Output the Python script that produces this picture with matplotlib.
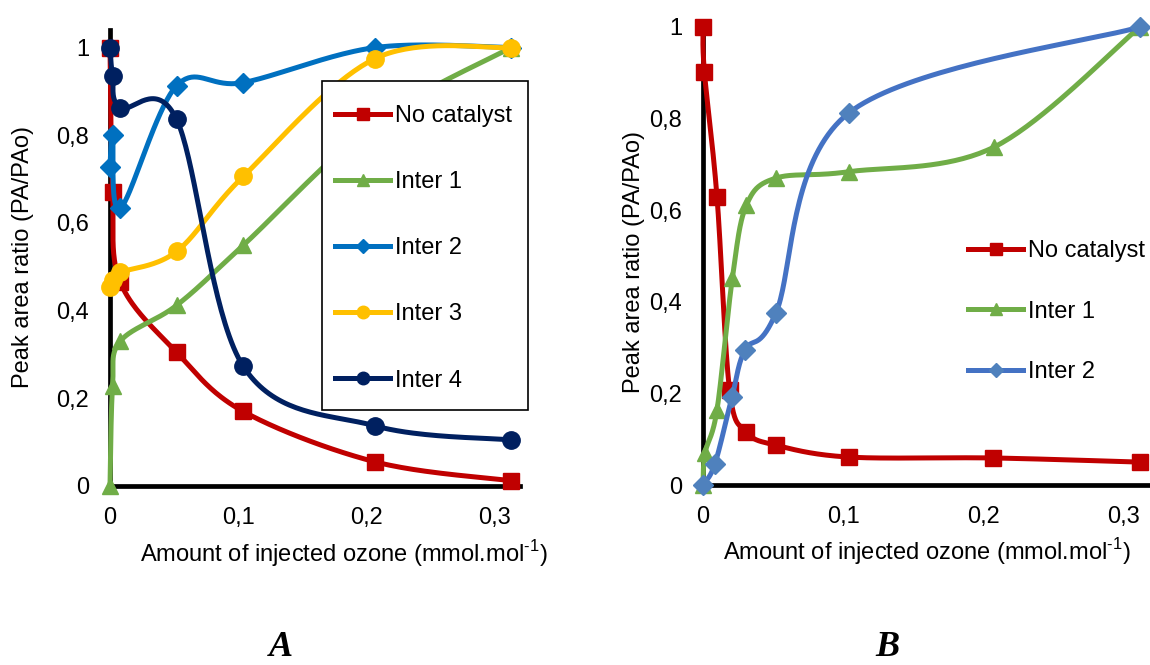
import numpy as np
import matplotlib
matplotlib.use("Agg")
import matplotlib.pyplot as plt
from matplotlib.lines import Line2D
from matplotlib.patches import Rectangle
from matplotlib.ticker import FuncFormatter, MultipleLocator

plt.rcParams['font.family'] = ['Liberation Sans', 'DejaVu Sans']
plt.rcParams['mathtext.fontset'] = 'custom'
plt.rcParams['mathtext.rm'] = 'Liberation Sans'

# panel A
xa = [0, 0.002, 0.008, 0.052, 0.104, 0.207, 0.313]
a_nocat = [1.0, 0.67, 0.465, 0.305, 0.17, 0.055, 0.012]
a_inter1 = [0.0, 0.228, 0.33, 0.412, 0.549, 0.829, 1.0]
a_inter2 = [0.727, 0.80, 0.633, 0.913, 0.92, 1.0, 1.0]
a_inter3 = [0.453, 0.47, 0.487, 0.535, 0.706, 0.975, 1.0]
a_inter4 = [1.0, 0.936, 0.863, 0.836, 0.273, 0.137, 0.105]

# panel B
xb = [0, 0.001, 0.01, 0.019, 0.031, 0.052, 0.104, 0.207, 0.312]
b_nocat = [1.0, 0.902, 0.629, 0.207, 0.116, 0.087, 0.061, 0.059, 0.05]
xb1 = [0, 0.0015, 0.01, 0.021, 0.031, 0.052, 0.104, 0.208, 0.312]
b_inter1 = [0.0, 0.07, 0.164, 0.452, 0.611, 0.67, 0.684, 0.738, 1.0]
xb2 = [0, 0.0085, 0.0207, 0.030, 0.052, 0.104, 0.312]
b_inter2 = [0.0, 0.046, 0.192, 0.295, 0.375, 0.812, 1.0]

RED = '#C00000'
GREEN = '#70AD47'
BLUE = '#0070C0'
YELLOW = '#FFC000'
NAVY = '#002060'
BLUE2 = '#4472C4'
BLUE2M = '#4F81BD'

FS = 17
LW = 3.6


def smooth(xs, ys, n=40):
    # Excel-like smoothed line (Catmull-Rom through the points)
    p = np.column_stack([xs, ys]).astype(float)
    pts = np.vstack([p[0], p, p[-1]])
    t = np.linspace(0, 1, n)[:, None]
    out = []
    for i in range(len(p) - 1):
        p0, p1, p2, p3 = pts[i], pts[i + 1], pts[i + 2], pts[i + 3]
        c1 = p1 + (p2 - p0) / 6
        c2 = p2 - (p3 - p1) / 6
        seg = (1 - t) ** 3 * p1 + 3 * (1 - t) ** 2 * t * c1 + 3 * (1 - t) * t ** 2 * c2 + t ** 3 * p2
        out.append(seg)
    c = np.vstack(out)
    return c[:, 0], c[:, 1]


def series(ax, xs, ys, color, marker, ms, mcolor=None):
    sx, sy = smooth(xs, ys)
    ax.plot(sx, sy, color=color, lw=LW, solid_capstyle='round', clip_on=False)
    ax.plot(xs, ys, ls='none', marker=marker, ms=ms, color=mcolor or color,
            mec=mcolor or color, clip_on=False)


def style(ax, ymax, xlab_pos, ylab_pos):
    ax.set_xlim(0, 0.32)
    ax.set_ylim(0, ymax)
    for s in ['top', 'right']:
        ax.spines[s].set_visible(False)
    for s in ['left', 'bottom']:
        ax.spines[s].set_linewidth(3.4)
        ax.spines[s].set_color('black')
        ax.spines[s].set_zorder(1)
    ax.xaxis.set_major_locator(MultipleLocator(0.1))
    ax.yaxis.set_major_locator(MultipleLocator(0.2))
    fmt = FuncFormatter(lambda v, p: f'{v:g}'.replace('.', ','))
    ax.xaxis.set_major_formatter(fmt)
    ax.yaxis.set_major_formatter(fmt)
    ax.tick_params(length=0, labelsize=FS, pad=15)
    ax.set_xlabel('Amount of injected ozone (mmol.mol$^{\\text{-1}}$)', fontsize=FS)
    ax.set_ylabel('Peak area ratio (PA/PAo)', fontsize=FS)
    ax.xaxis.set_label_coords(*xlab_pos)
    ax.yaxis.set_label_coords(*ylab_pos)


fig = plt.figure(figsize=(11.5, 6.65), dpi=100)
W, H = 1150, 665

axA = fig.add_axes([110 / W, 179 / H, 410 / W, 456 / H])
series(axA, xa, a_nocat, RED, 's', 12)
series(axA, xa, a_inter1, GREEN, '^', 12)
series(axA, xa, a_inter2, BLUE, 'D', 10)
series(axA, xa, a_inter3, YELLOW, 'o', 12.5)
series(axA, xa, a_inter4, NAVY, 'o', 12.5)
style(axA, 1.04, (0.571, -0.114), (-0.185, 0.502))

handlesA = [
    Line2D([], [], color=RED, lw=LW, marker='s', ms=9, label='No catalyst'),
    Line2D([], [], color=GREEN, lw=LW, marker='^', ms=9, label='Inter 1'),
    Line2D([], [], color=BLUE, lw=LW, marker='D', ms=7, label='Inter 2'),
    Line2D([], [], color=YELLOW, lw=LW, marker='o', ms=9, label='Inter 3'),
    Line2D([], [], color=NAVY, lw=LW, marker='o', ms=9, label='Inter 4'),
]
legA = fig.legend(handles=handlesA, loc='upper left', bbox_to_anchor=(335 / W, 1 - 105 / H),
                  frameon=False, fontsize=FS, borderpad=0, borderaxespad=0,
                  handlelength=2.35, handletextpad=0.2, labelspacing=1.87)
fig.add_artist(Rectangle((322 / W, 1 - 410 / H), 206 / W, 329 / H, transform=fig.transFigure,
                         fill=True, facecolor='white', edgecolor='black', lw=1.2, zorder=2))
legA.set_zorder(3)

axB = fig.add_axes([703 / W, 180 / H, 448 / W, 458 / H])
series(axB, xb, b_nocat, RED, 's', 12)
series(axB, xb1, b_inter1, GREEN, '^', 12)
series(axB, xb2, b_inter2, BLUE2, 'D', 10.5, BLUE2M)
style(axB, 1.0, (0.5, -0.111), (-0.129, 0.487))

handlesB = [
    Line2D([], [], color=RED, lw=LW, marker='s', ms=9, label='No catalyst'),
    Line2D([], [], color=GREEN, lw=LW, marker='^', ms=9, label='Inter 1'),
    Line2D([], [], color=BLUE2, lw=LW, marker='D', ms=7, mfc=BLUE2M, mec=BLUE2M, label='Inter 2'),
]
fig.legend(handles=handlesB, loc='upper left', bbox_to_anchor=(968 / W, 1 - 240 / H),
           frameon=False, fontsize=FS, borderpad=0, borderaxespad=0,
           handlelength=2.35, handletextpad=0.2, labelspacing=1.64)

fig.text(281 / W, 1 - 647 / H, 'A', fontsize=26, family='Liberation Serif',
         weight='bold', style='italic', ha='center', va='center')
fig.text(887 / W, 1 - 647 / H, 'B', fontsize=26, family='Liberation Serif',
         weight='bold', style='italic', ha='center', va='center')

fig.savefig('out.png', dpi=100)
